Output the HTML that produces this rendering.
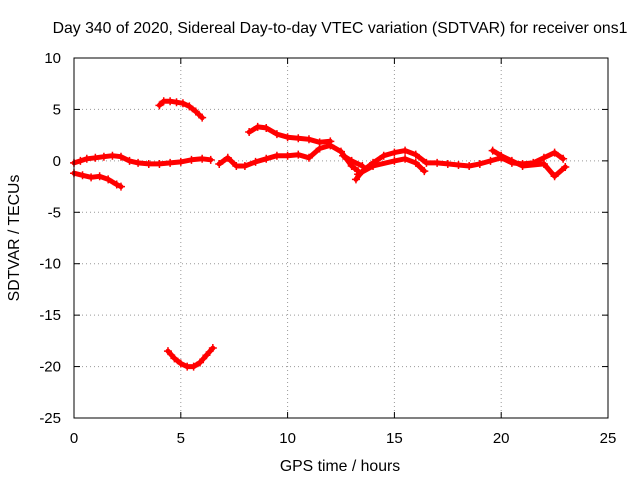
<!DOCTYPE html>
<html><head><meta charset="utf-8"><style>
html,body{margin:0;padding:0;background:#fff}
svg{display:block;font-family:"Liberation Sans",sans-serif}
</style></head><body>
<svg id="chart" width="640" height="480" xmlns="http://www.w3.org/2000/svg">
<rect width="640" height="480" fill="#fff"/>
<text x="340" y="33" font-size="15.8" text-anchor="middle">Day 340 of 2020, Sidereal Day-to-day VTEC variation (SDTVAR) for receiver ons1</text>
<g id="grid"></g>
<g id="ticks"></g>
<g id="series"></g>
<rect x="74" y="58" width="534" height="360" fill="none" stroke="#000" stroke-width="1"/>
<text x="340" y="471" font-size="15.8" text-anchor="middle">GPS time / hours</text>
<text transform="translate(19,238) rotate(-90)" font-size="15.8" text-anchor="middle">SDTVAR / TECUs</text>
</svg>
<script>
const xTicks=[0,5,10,15,20,25];
const yTicks=[10,5,0,-5,-10,-15,-20,-25];
const trackA=[[4.0,5.4],[4.2,5.8],[4.5,5.8],[4.8,5.7],[5.1,5.6],[5.4,5.3],[5.7,4.8],[6.0,4.2]];
const trackB=[[4.4,-18.5],[4.7,-19.2],[5.0,-19.7],[5.3,-20.0],[5.6,-20.0],[5.9,-19.6],[6.2,-18.9],[6.5,-18.2]];
const trackC=[[0,-0.2],[0.3,0.0],[0.6,0.2],[1.0,0.3],[1.4,0.4],[1.8,0.5],[2.2,0.4],[2.6,0.0],[3.0,-0.2],[3.5,-0.3],[4.0,-0.3],[4.5,-0.2],[5.0,-0.1],[5.5,0.1],[6.0,0.2],[6.4,0.1]];
const trackD=[[0,-1.2],[0.4,-1.4],[0.8,-1.6],[1.2,-1.5],[1.6,-1.8],[2.0,-2.3],[2.2,-2.5]];
const trackE=[[6.8,-0.3],[7.2,0.3],[7.6,-0.5],[8.0,-0.5],[8.5,-0.1],[9.0,0.2],[9.5,0.5],[10,0.5],[10.5,0.6],[11,0.3],[11.5,1.2],[12,1.5],[12.5,0.9],[13,-0.5],[13.3,-1.0]];
const trackF=[[8.2,2.8],[8.6,3.3],[9.0,3.2],[9.5,2.6],[10,2.3],[10.5,2.2],[11,2.1],[11.5,1.8],[12,1.9]];
const trackG=[[13.2,-1.8],[13.5,-1.0],[14,-0.2],[14.5,0.5],[15,0.8],[15.5,1.0],[16,0.6],[16.5,-0.2],[17,-0.2],[17.5,-0.3],[18,-0.4],[18.5,-0.5],[19,-0.3],[19.5,0.0],[20,0.3],[20.5,-0.2],[21,-0.3],[21.5,-0.2],[22,0.3],[22.5,0.8],[22.9,0.2]];
const trackH=[[13.3,-1.3],[14,-0.5],[15,0.0],[15.5,0.2],[16,-0.2],[16.4,-1.0]];
const trackI=[[19.6,1.0],[20,0.5],[20.5,0.0],[21,-0.5],[22,-0.3],[22.5,-1.5],[23,-0.6]];
const trackJ=[[12.6,0.5],[13,0.0],[13.5,-0.5]];
const tracks=[trackA,trackB,trackC,trackD,trackE,trackF,trackG,trackH,trackI,trackJ];
const NS="http://www.w3.org/2000/svg";
const X0=74,X1=608,Y0=418,Y1=58;
function sx(v){return X0+(v-0)/(25-0)*(X1-X0);}
function sy(v){return Y0-(v+25)/(10+25)*(Y0-Y1);}
function mk(t,a,p){const e=document.createElementNS(NS,t);for(const k in a)e.setAttribute(k,a[k]);p.appendChild(e);return e;}
const grid=document.getElementById('grid'),ticks=document.getElementById('ticks'),series=document.getElementById('series');
xTicks.forEach(v=>{
  if(v>0&&v<25){const l=mk('line',{x1:sx(v),x2:sx(v),y1:Y1,y2:Y0,stroke:'#999','stroke-dasharray':'1,3'},grid);
  
  }
  mk('line',{x1:sx(v),x2:sx(v),y1:Y0,y2:Y0-6,stroke:'#000'},ticks);
  mk('line',{x1:sx(v),x2:sx(v),y1:Y1,y2:Y1+6,stroke:'#000'},ticks);
  const t=mk('text',{x:sx(v),y:Y0+25,'font-size':'15','text-anchor':'middle'},ticks);t.textContent=v;
  
  
});
yTicks.forEach(v=>{
  if(v<10&&v>-25){const l=mk('line',{x1:X0,x2:X1,y1:sy(v),y2:sy(v),stroke:'#999','stroke-dasharray':'1,3'},grid);
  
  }
  mk('line',{x1:X0,x2:X0+6,y1:sy(v),y2:sy(v),stroke:'#000'},ticks);
  mk('line',{x1:X1,x2:X1-6,y1:sy(v),y2:sy(v),stroke:'#000'},ticks);
  const t=mk('text',{x:X0-13,y:sy(v)+5,'font-size':'15','text-anchor':'end'},ticks);t.textContent=v;
  
  
});
tracks.forEach(tr=>{
  const d=tr.map((p,i)=>(i?'L':'M')+sx(p[0]).toFixed(1)+','+sy(p[1]).toFixed(1)).join('');
  const path=mk('path',{d:d,fill:'none',stroke:'#f00','stroke-width':'5','stroke-linejoin':'round','stroke-linecap':'round'},series);
  
  
  tr.forEach(p=>{
    const x=sx(p[0]),y=sy(p[1]);
    const m=mk('path',{d:`M${x-4},${y}h8M${x},${y-4}v8`,stroke:'#f00','stroke-width':'1.5'},series);
    
    
  });
});
</script>
</body></html>
